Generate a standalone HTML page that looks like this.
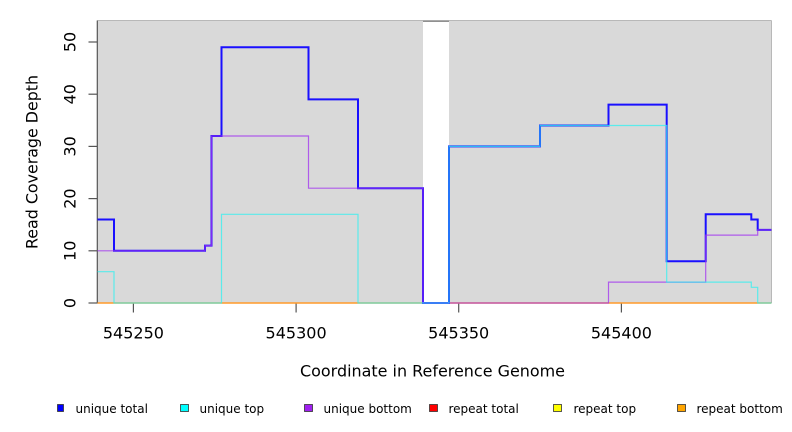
<!DOCTYPE html>
<html>
<head>
<meta charset="utf-8">
<style>
html,body{margin:0;padding:0;background:#fff;}
svg{display:block;}
text{font-family:"DejaVu Sans","Liberation Sans",sans-serif;fill:#000;}
</style>
</head>
<body>
<svg width="792" height="432" viewBox="0 0 792 432" xmlns="http://www.w3.org/2000/svg">
  <!-- plot background -->
  <rect x="97.5" y="20.5" width="674" height="282.5" fill="#d9d9d9"/>
  <rect x="423" y="20.5" width="26" height="282.5" fill="#ffffff"/>
  <!-- frame -->
  <line x1="97.5" y1="20.5" x2="771.5" y2="20.5" stroke="#b8b8b8" stroke-width="1"/>
  <line x1="771.5" y1="20.5" x2="771.5" y2="303" stroke="#b8b8b8" stroke-width="1"/>
  <line x1="423" y1="21.3" x2="449" y2="21.3" stroke="#808080" stroke-width="1.2"/>
  <line x1="97.3" y1="20.5" x2="97.3" y2="303.5" stroke="#555" stroke-width="1.2"/>

  <!-- y ticks -->
  <g stroke="#555" stroke-width="1.2">
    <line x1="88.5" y1="303" x2="97.3" y2="303"/>
    <line x1="88.5" y1="250.8" x2="97.3" y2="250.8"/>
    <line x1="88.5" y1="198.6" x2="97.3" y2="198.6"/>
    <line x1="88.5" y1="146.4" x2="97.3" y2="146.4"/>
    <line x1="88.5" y1="94.2" x2="97.3" y2="94.2"/>
    <line x1="88.5" y1="42" x2="97.3" y2="42"/>
  </g>
  <!-- y tick labels -->
  <g font-size="16" text-anchor="middle">
    <text transform="translate(75.5,303) rotate(-90)">0</text>
    <text transform="translate(75.5,250.8) rotate(-90)">10</text>
    <text transform="translate(75.5,198.6) rotate(-90)">20</text>
    <text transform="translate(75.5,146.4) rotate(-90)">30</text>
    <text transform="translate(75.5,94.2) rotate(-90)">40</text>
    <text transform="translate(75.5,42) rotate(-90)">50</text>
  </g>
  <text font-size="16" text-anchor="middle" transform="translate(37.5,162) rotate(-90)" textLength="174" lengthAdjust="spacingAndGlyphs">Read Coverage Depth</text>

  <!-- x ticks -->
  <g stroke="#555" stroke-width="1.2">
    <line x1="133.4" y1="303" x2="133.4" y2="312.5"/>
    <line x1="296.1" y1="303" x2="296.1" y2="312.5"/>
    <line x1="458.7" y1="303" x2="458.7" y2="312.5"/>
    <line x1="621.4" y1="303" x2="621.4" y2="312.5"/>
  </g>
  <g font-size="16" text-anchor="middle">
    <text x="133.4" y="338.5">545250</text>
    <text x="296.1" y="338.5">545300</text>
    <text x="458.7" y="338.5">545350</text>
    <text x="621.4" y="338.5">545400</text>
  </g>
  <text x="432.5" y="376.5" font-size="16" text-anchor="middle" textLength="265" lengthAdjust="spacingAndGlyphs">Coordinate in Reference Genome</text>

  <!-- repeat lines at zero -->
  <line x1="97.5" y1="303" x2="771.5" y2="303" stroke="#ff9a2a" stroke-width="1.6"/>

  <!-- unique total -->
  <path d="M97.5,219.5 H114 V250.8 H205 V245.6 H211.5 V136 H221.5 V47.2 H308.5 V99.4 H358 V188.2 H423 V303 H449 V146.4 H540 V125.5 H608.5 V104.6 H666.7 V261.2 H705.7 V214.3 H751.3 V219.5 H757.7 V229.9 H771.5"
        fill="none" stroke="#1a10ff" stroke-width="2"/>
  <!-- unique bottom -->
  <path d="M97.5,250.8 H205 V245.6 H211.5 V136 H308.5 V188.2 H423 V303 H608.5 V282.1 H705.7 V235.1 H757.7 V229.9 H771.5"
        fill="none" stroke="#a030f0" stroke-width="1.2" stroke-opacity="0.75"/>
  <!-- unique top -->
  <path d="M97.5,271.7 H114 V303 H221.5 V214.3 H358 V303 H449 V146.4 H540 V125.5 H666.7 V282.1 H751.3 V287.3 H757.7 V303 H771.5"
        fill="none" stroke="#30f0f0" stroke-width="1.2" stroke-opacity="0.75"/>

  <!-- legend -->
  <g font-size="12">
    <rect x="57.5" y="404.5" width="6" height="7" fill="#0000ff" stroke="#333" stroke-width="0.8"/>
    <text x="75.5" y="413">unique total</text>
    <rect x="180.5" y="404.5" width="8" height="7" fill="#00ffff" stroke="#333" stroke-width="0.8"/>
    <text x="199.5" y="413">unique top</text>
    <rect x="304.5" y="404.5" width="8" height="7" fill="#a020f0" stroke="#333" stroke-width="0.8"/>
    <text x="323.5" y="413">unique bottom</text>
    <rect x="429.5" y="404.5" width="8" height="7" fill="#ff0000" stroke="#333" stroke-width="0.8"/>
    <text x="448.5" y="413">repeat total</text>
    <rect x="553.5" y="404.5" width="8" height="7" fill="#ffff00" stroke="#333" stroke-width="0.8"/>
    <text x="573.5" y="413">repeat top</text>
    <rect x="677.5" y="404.5" width="8" height="7" fill="#ffa500" stroke="#333" stroke-width="0.8"/>
    <text x="696.5" y="413">repeat bottom</text>
  </g>
</svg>
</body>
</html>
